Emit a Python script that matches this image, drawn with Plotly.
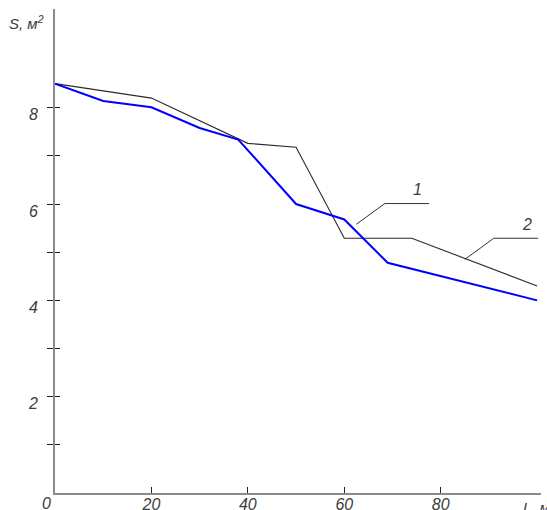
import plotly.graph_objects as go

# Curve 1 (blue): area S versus length L
l1 = [0, 10, 20, 30, 38, 50, 60, 69, 100]
s1 = [8.5, 8.14, 8.01, 7.58, 7.34, 6.0, 5.68, 4.78, 4.0]

# Curve 2 (black)
l2 = [0, 20, 40, 50, 60, 74, 100]
s2 = [8.5, 8.2, 7.26, 7.18, 5.29, 5.29, 4.3]

# Axis ticks
x_ticks = [20, 40, 60, 80]
x_labels = ["20", "40", "60", "80"]
y_ticks = [2, 4, 6, 8]
y_labels = ["2", "4", "6", "8"]
y_minor_ticks = [1, 3, 5, 7]

# Leader lines for the curve numbers
lead1_x = [62.5, 68.4, 77.6]
lead1_y = [5.58, 6.01, 6.01]
lead2_x = [85.0, 91.0, 100.2]
lead2_y = [4.85, 5.29, 5.29]
tag1 = (75.1, 6.31, "1")
tag2 = (97.8, 5.58, "2")

X_RANGE = [0, 100.8]
Y_RANGE = [0, 10.05]

FONT = "Liberation Sans, Arial, sans-serif"
TEXT_COLOR = "#3c3c3c"
TICK_FONT = dict(family=FONT, size=16, color=TEXT_COLOR, style="italic")

fig = go.Figure()

fig.add_trace(go.Scatter(x=l2, y=s2, mode="lines",
                         line=dict(color="#2a2a2a", width=1.1),
                         showlegend=False, hoverinfo="skip"))
fig.add_trace(go.Scatter(x=l1, y=s1, mode="lines",
                         line=dict(color="#0000ff", width=2),
                         showlegend=False, hoverinfo="skip"))

for lx, ly in ((lead1_x, lead1_y), (lead2_x, lead2_y)):
    fig.add_trace(go.Scatter(x=lx, y=ly, mode="lines",
                             line=dict(color="#333333", width=1),
                             showlegend=False, hoverinfo="skip"))

for tx, ty, tt in (tag1, tag2):
    fig.add_annotation(x=tx, y=ty, text=tt, showarrow=False, font=TICK_FONT)

# origin label
fig.add_annotation(x=0, y=0, text="0", showarrow=False, xanchor="center", yanchor="top",
                   xshift=-9, yshift=0, font=TICK_FONT)

# axis titles
fig.add_annotation(xref="paper", yref="paper", x=-0.058, y=0.973, text="S, м<sup>2</sup>",
                   showarrow=False, xanchor="center", yanchor="middle",
                   font=dict(family=FONT, size=15, color=TEXT_COLOR, style="italic"))
fig.add_annotation(xref="paper", yref="paper", x=0.958, y=-0.009, text="L, м",
                   showarrow=False, xanchor="left", yanchor="top",
                   font=dict(family=FONT, size=15, color=TEXT_COLOR, style="italic"))

fig.update_layout(
    width=547, height=510,
    margin=dict(l=55, r=6, t=9, b=17),
    paper_bgcolor="white", plot_bgcolor="white",
    xaxis=dict(range=X_RANGE, showgrid=False, zeroline=False, automargin=False,
               showline=True, linecolor="#8c8c8c", linewidth=2,
               tickvals=x_ticks, ticktext=x_labels,
               ticks="inside", ticklen=6, tickcolor="#222222", tickwidth=1,
               ticklabelstandoff=-4, tickfont=TICK_FONT),
    yaxis=dict(range=Y_RANGE, showgrid=False, zeroline=False, automargin=False,
               showline=True, linecolor="#8c8c8c", linewidth=2,
               tickvals=y_ticks, ticktext=y_labels,
               ticks="outside", ticklen=6, tickcolor="#222222", tickwidth=1,
               minor=dict(tickmode="array", tickvals=y_minor_ticks, ticks="outside",
                          ticklen=6, tickcolor="#222222", tickwidth=1, showgrid=False),
               ticklabelshift=7, ticklabelstandoff=6, tickfont=TICK_FONT),
    yaxis2=dict(range=Y_RANGE, overlaying="y", anchor="x", side="left",
                showgrid=False, zeroline=False, showline=False, automargin=False,
                tickvals=y_ticks, showticklabels=False,
                ticks="inside", ticklen=5, tickcolor="#222222", tickwidth=1,
                minor=dict(tickmode="array", tickvals=y_minor_ticks, ticks="inside",
                           ticklen=5, tickcolor="#222222", tickwidth=1, showgrid=False)),
)

# an empty trace keeps the overlay axis drawn
fig.add_trace(go.Scatter(x=[None], y=[None], yaxis="y2", showlegend=False, hoverinfo="skip"))

fig.write_html("out.html")
